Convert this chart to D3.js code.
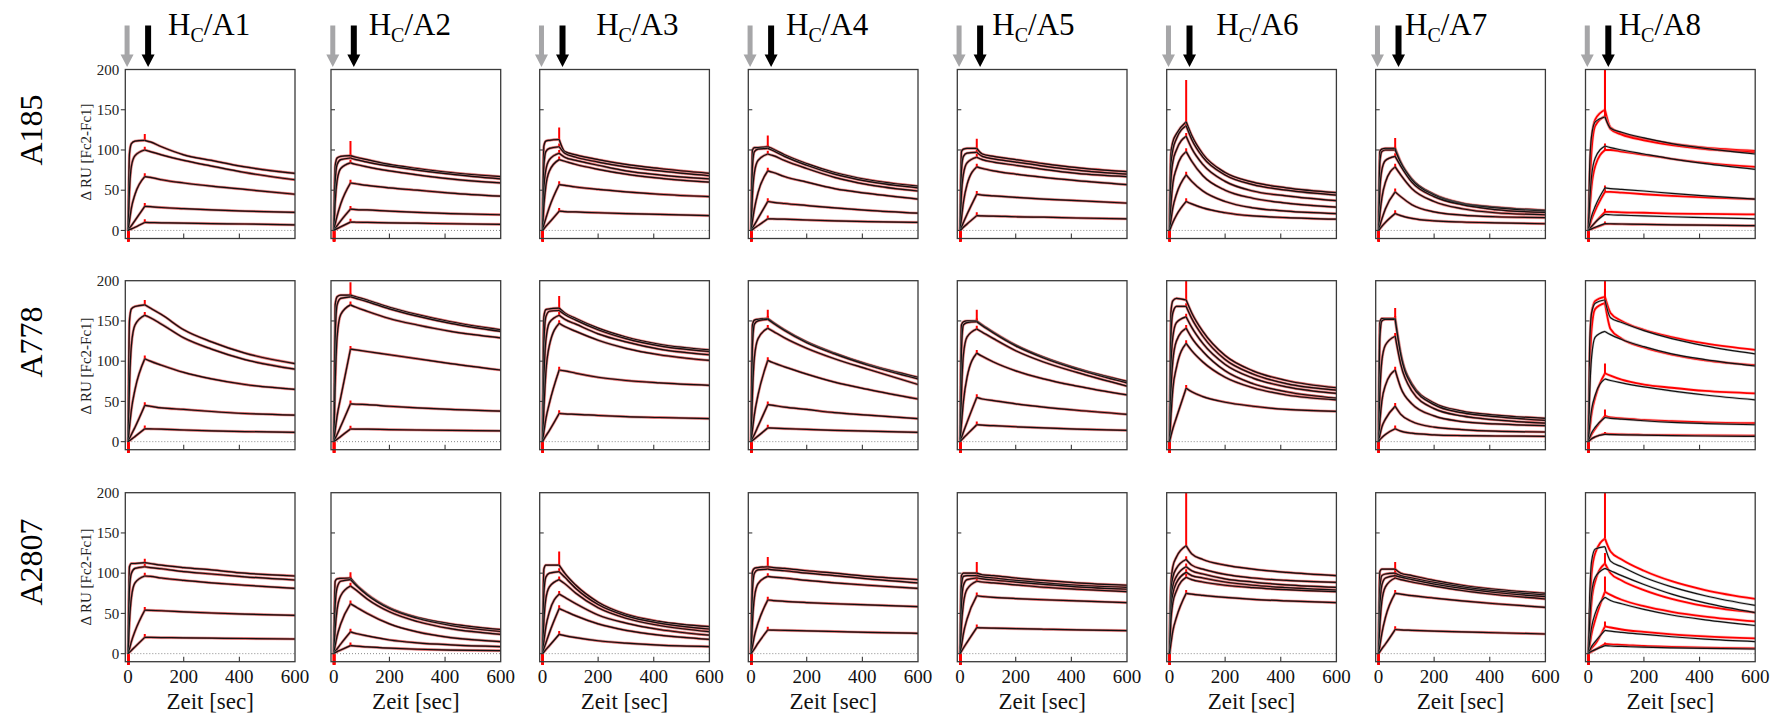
<!DOCTYPE html>
<html>
<head>
<meta charset="utf-8">
<script src="https://cdn.jsdelivr.net/npm/d3@7"></script>
<style>
  body { margin: 0; background: #fff; }
  svg { display: block; }
  svg text { font-family: "Liberation Serif", "DejaVu Serif", "Times New Roman", serif; }
</style>
</head>
<body>
<svg id="chart" width="1775" height="717" font-family="Liberation Serif, DejaVu Serif, serif"></svg>
<script>
// Sensorgrams: rows = antibody, columns = H_C / A-variant
const rowNames = ["A185", "A778", "A2807"];
const colNames = ["A1", "A2", "A3", "A4", "A5", "A6", "A7", "A8"];
const timePoints = [0, 5, 12, 25, 60, 80, 120, 200, 300, 420, 600];
const injectionEnd = 60;
const xTickValues = [0, 200, 400, 600];
const yTickValues = [0, 50, 100, 150, 200];

// black fit curves, one list per column
const fitA185 = [
  [[0,95,108,111,112,110,104,94,87,79,71],[0,50,80,93,100,98,94,87,80,72,63],[0,12,28,45,67,66,63,59,55,51,45],[0,3,6,12.5,30,29.5,28.5,27,25.5,24,22.4],[0,1,2,4,10,9.8,9.5,9,8.5,8,7]],
  [[0,80,90,92,93,91,88,82,77,72,67],[0,60,82,88,90,88,85,80,75,70,64],[0,35,62,77,84,82,79,74,69,64,59],[0,8,18,33,59,58,56,53,50,46.5,42.6],[0,2.5,6,12,26.5,26,25.5,24,22.5,21,19.5],[0,1,2.3,4.5,10.4,10.2,10,9.5,9,8.3,7.5]],
  [[0,105,111,112,113,98,94,88,82,77,71],[0,80,98,102,104,96,91,85,79,74,68],[0,50,75,88,96,91,87,81,74,69,64],[0,30,55,74,88,86,82,76,70,65,60],[0,7,15,29,57,56,54,51,48,45,42],[0,2,5,10,24,23.5,23,22,21,20,18.5]],
  [[0,100,103,103,104,101,94,83,72,63,55],[0,80,98,101,102,99,92,81,70,61,53],[0,45,72,87,95,93,87,77,66,57,49],[0,12,27,47,74,72,67,60,52,46,39],[0,3,7,15,36,35,33.5,31,28,25,21.5],[0,1,3,6,14.5,14.3,14,13,12,11,10]],
  [[0,98,101,102,102,95,92,88,83,78,73],[0,75,92,96,97,92,89,85,80,75,70],[0,45,70,84,91,88,85,81,76,71,67],[0,15,35,57,79,77,74,70,66,62,57],[0,4,10,20,45,44,43,41,39,37,34],[0,1.5,4,8,18.5,18,17.8,17,16.5,15.5,14.5]],
  [[0,95,110,120,135,118,95,72,60,53,47],[0,80,100,114,130,113,91,69,57,50,44],[0,60,85,100,117,102,82,61,49,43,37],[0,30,58,77,98,86,68,50,40,34,29],[0,12,28,45,69,61,49,36,28,24,21],[0,4,10,19,36,33,28,22,18,16,14]],
  [[0,98,101,102,102,85,64,45,34,29,25],[0,85,98,100,100,84,63,44,33,28,24],[0,50,75,87,92,80,60,42,32,26,22.5],[0,20,40,60,79,69,52,36,27,22,19.5],[0,6,14,27,48,42,32,23,19,17,16],[0,2,5,10,21,18.5,15,12,10.5,9.5,8.3]],
  [[0,80,118,135,141,127,122,115,108,102,95],[0,35,68,90,105,103,100,95,89,83,76],[0,8,18,30,53,52,51,49,46,43,39],[0,2,5,10,20,19.5,19,18,17,16,14.5],[0,1,2,4,8.5,8.3,8,7.5,7,6.5,6]]
];
const fitA778 = [
  [[0,150,165,168,170,166,158,139,124,110,97],[0,70,120,145,157,154,146,129,115,102,90],[0,18,40,65,103,100,95,86,78,71,65],[0,4,9,18,45,44,42,40,37.5,35,33],[0,1.3,3,6.5,16,15.8,15.5,14.5,13.5,12.5,11.6]],
  [[0,170,180,182,182,180,176,167,158,149,139],[0,130,170,178,180,178,174,165,156,147,137],[0,70,130,158,170,167,162,153,145,137,129],[0,14,32,55,115,114,112,108,103,97,89],[0,4,9,19,47,46.5,46,44,42,40,38],[0,1.3,3,6.5,15.7,15.6,15.5,15,14.5,14,13.5]],
  [[0,155,164,165,166,160,153,141,130,121,114],[0,120,155,162,163,158,151,139,128,119,112],[0,75,125,148,157,152,146,134,124,115,108],[0,40,85,120,147,143,137,126,116,108,101],[0,12,28,48,89,88,85,80,76,73,70],[0,3,7,14,35,34.5,34,32.5,31,30,28.5]],
  [[0,145,151,152,153,148,139,124,110,96,80],[0,120,146,150,152,147,138,123,109,95,78],[0,60,105,128,141,137,129,116,103,90,71],[0,15,34,58,101,98,93,84,74,65,53],[0,4,9,19,46,45,43,40,36,33,28.5],[0,1.4,3.4,7,17,16.8,16.3,15.2,14,13,11.6]],
  [[0,145,149,150,150,145,136,120,105,91,75],[0,115,145,148,149,144,135,119,104,90,73],[0,60,108,130,140,136,128,113,99,86,69],[0,22,50,80,110,106,99,88,78,69,58],[0,5,12,24,55,53,51,47,43,39,34],[0,2,4.5,9,21,20.5,19.8,18.5,17,15.5,14]],
  [[0,160,175,178,176,160,137,107,88,76,67],[0,130,160,168,168,153,131,102,84,72,64],[0,90,130,148,155,142,122,96,79,68,60],[0,60,100,125,141,129,112,88,72,62,54],[0,30,65,92,122,113,99,80,67,58,52],[0,7,16,30,66.5,62,56,49,44,40,37.6]],
  [[0,148,153,153,153,110,72,48,38,33,29],[0,130,150,152,152,108,70,46,36,31,26.5],[0,60,100,120,131,96,63,41,32,27,23],[0,25,50,70,89,67,47,32,25,22,20],[0,8,18,28,44,34,25,18,15,13,12],[0,2.5,5,9,16,13,10.5,8.5,7.5,7,6.6]],
  [[0,120,160,172,176,154,148,138,128,119,109],[0,60,105,130,137,133,127,118,109,102,94],[0,20,40,58,78,76,73,68,63,58,52],[0,5,11,18,30,29,28,26,24,22.5,21],[0,1.5,3.5,6,9,8.8,8.5,8,7.5,7,6.6]]
];
const fitA2807 = [
  [[0,108,112,112,113,112,110,107,104,100,96.5],[0,80,100,106,108,107,105.5,102,99,95.5,91.5],[0,40,70,88,96.5,96,94,91,88,85,81],[0,6,15,28,54,53.8,53.3,52,50.5,49,47.6],[0,1.7,4,8.5,20.3,20.2,20,19.7,19.3,18.8,18.2]],
  [[0,90,93,93.5,94,86,74,57,45,37,30],[0,60,82,90,92,85,73,56,44,35,27.5],[0,30,55,72,84,79,68,52,40,31,24],[0,10,22,37,62,58,50,37,27,20,15],[0,3,6,12,27,25,22,17,13.5,11,8.7],[0,1,2.5,4.5,10,9.3,8.3,6.8,5.5,4.5,3.7]],
  [[0,105,110,110,110,100,85,64,49,40,33.5],[0,75,95,100,102,95,81,61,47,38,30.6],[0,40,68,83,92,87,75,57,44,35,27.3],[0,15,33,52,74,70,62,48,38,30,23],[0,6,13,26,56,53,47,37,29,23,17.8],[0,2,5,10,24,22.5,20,16,13,10.5,8.7]],
  [[0,102,106,107,108,107,106,103,100,96,92],[0,80,100,104,105,104,103,100,97,93,88],[0,40,70,87,96,95,94,91,88,85,81],[0,9,22,38,66.7,66,65,63.5,62,60.5,58.4],[0,2.5,6,13,29.4,29.2,29,28.3,27.5,26.5,25.3]],
  [[0,97,100,100,100,98,97,94,91,88,85],[0,85,96,97,97,95.5,94,91,88,85,82.4],[0,60,85,92,94,93,91.5,89,86,83,80],[0,35,62,80,90,89,88,85.5,82.5,80,77],[0,10,25,43,72,71,70,68.5,67,65.5,63.4],[0,3,7,14,32.3,32,31.6,31,30.3,29.5,28.6]],
  [[0,85,108,120,134,124,117,110,105,101,97],[0,75,95,106,117,110,105,98.5,94,91,88.6],[0,62,84,96,108,103,99,93,89,85.5,82.4],[0,50,74,88,101,97,94,89,85,82,79],[0,40,63,78,95,92,89,85,82,79.5,77],[0,12,28,45,75,74,72.5,70,67.5,65.5,63.4]],
  [[0,102,105,105,105,100,97,91,85,80,75],[0,80,97,99,100,97,94,88.5,83,78,72.9],[0,55,85,94,97,95,92,86.5,81,76,70.8],[0,35,65,83,94,92,89,84,78.5,73.5,67.9],[0,10,25,45,75,74,72,69,65.5,62,57.6],[0,2.5,6,12,30,29.5,29,28,27,26,24.4]],
  [[0,70,115,130,133,115,108,95,83,72,60],[0,40,75,95,106,103,97,86,74,63,51],[0,15,33,50,70,66,62,55,48,42,35],[0,4,9,15,29,28,26.5,24,21,18,15],[0,1.5,3,5,10,9.5,9,8,7.2,6.5,5.8]]
];

// red measured curves: equal to the fit except for the A8 column
const measuredA8 = [
  [[0,70,115,138,150,128,121,114,108,103,99],[0,50,100,130,142,126,119,112,106,101,97],[0,25,55,80,100,100,98,94,89,84,79],[0,6,14,25,48,48,47,45,43,41,39],[0,2,5,10,23,23,22.5,22,21,20.5,20],[0,1,2,3.5,8,8,7.8,7.5,7,6.5,6]],
  [[0,110,160,175,180,160,150,139,130,122,114],[0,80,140,165,172,140,128,117,108,101,95],[0,15,35,55,85,82,77,71,67,63,60],[0,4,9,16,32,30,29,27,25.5,24,23],[0,1.5,3.5,6,10,9.5,9,8.5,8,7.7,7.4]],
  [[0,50,100,125,143,127,117,103,90,79,68],[0,30,65,90,112,100,91,79,68,59,51],[0,10,25,42,77,73,67,59,52,46,40],[0,3,7,12,34,32.5,30,27,24,21.5,19],[0,1,2.5,5,12,11.5,11,9.5,8.5,7.5,6.6]]
];
// injection-end spikes of the measured curves (RU)
const topSpikeA185 = [120, 111, 128, 118, 114, 187, 115];
const topSpikeA778 = [176, 198, 181, 164, 164, 200, 166];
const topSpikeA2807 = [118, 101, 127, 120, 114, 200, 114];
const spikesA8 = [[210, 205, 108, 56, 27, 11], [210, 190, 97, 40, 12], [210, 125, 96, 40, 14]];
const minorSpike = 4;
const injectionDip = -16;

// layout
const panelLefts = [125.3, 331, 539.7, 748.3, 957.3, 1166.7, 1375.7, 1585.5];
const panelTops = [69.5, 280.7, 492.7];
const panelW = 169.7, panelH = 169;
const titleLefts = [168, 368.7, 596.2, 786, 992.3, 1216.3, 1405, 1618.7];
const rowLabelY = [130, 342, 562];
const axisLabelY = [152, 366, 577];
const serif = "Liberation Serif, DejaVu Serif, serif";

const fits = [fitA185, fitA778, fitA2807];
const topSpikes = [topSpikeA185, topSpikeA778, topSpikeA2807];

const svg = d3.select("#chart");
const defs = svg.append("defs");

function drawPanel(r, c) {
  const left = panelLefts[c], top = panelTops[r];
  const x = d3.scaleLinear().domain([-10, 600]).range([left, left + panelW]);
  const y = d3.scaleLinear().domain([-10, 200]).range([top + panelH, top]);
  const g = svg.append("g");

  const clipId = `clip-${r}-${c}`;
  defs.append("clipPath").attr("id", clipId)
    .append("rect").attr("x", left).attr("y", top).attr("width", panelW).attr("height", panelH + 3);

  // zero reference
  g.append("line")
    .attr("x1", left).attr("x2", left + panelW)
    .attr("y1", y(0)).attr("y2", y(0))
    .attr("stroke", "#8a8a8a").attr("stroke-width", 1).attr("stroke-dasharray", "1,2");

  const plot = g.append("g").attr("clip-path", `url(#${clipId})`);
  const line = d3.line().x(d => x(d[0])).y(d => y(d[1])).curve(d3.curveMonotoneX);
  const phases = vals => {
    const pts = timePoints.map((t, i) => [t, vals[i]]);
    const k = timePoints.indexOf(injectionEnd);
    return [pts.slice(0, k + 1), pts.slice(k)];
  };

  const isA8 = c === 7;
  const measured = isA8 ? measuredA8[r] : fits[r][c];
  const spikes = isA8 ? spikesA8[r]
    : measured.map((v, i) => i === 0 ? topSpikes[r][c] : v[timePoints.indexOf(injectionEnd)] + minorSpike);

  // measured data (red)
  measured.forEach((vals, i) => {
    const v60 = vals[timePoints.indexOf(injectionEnd)];
    phases(vals).forEach(seg => {
      plot.append("path").attr("d", line(seg)).attr("fill", "none")
        .attr("stroke", "#ff8a8a").attr("stroke-width", 3.2).attr("stroke-opacity", 0.45);
      plot.append("path").attr("d", line(seg)).attr("fill", "none")
        .attr("stroke", "#ff0000").attr("stroke-width", 1.8);
    });
    plot.append("line")
      .attr("x1", x(injectionEnd)).attr("x2", x(injectionEnd))
      .attr("y1", y(v60)).attr("y2", y(spikes[i]))
      .attr("stroke", "#ff0000").attr("stroke-width", 2);
    plot.append("line")
      .attr("x1", x(1)).attr("x2", x(1))
      .attr("y1", y(0)).attr("y2", y(injectionDip))
      .attr("stroke", "#ff0000").attr("stroke-width", 2.4);
  });

  // fitted model (black)
  fits[r][c].forEach(vals => {
    phases(vals).forEach(seg => {
      plot.append("path").attr("d", line(seg)).attr("fill", "none")
        .attr("stroke", "#9a9a9a").attr("stroke-width", 2.4).attr("stroke-opacity", 0.5);
      plot.append("path").attr("d", line(seg)).attr("fill", "none")
        .attr("stroke", "#111").attr("stroke-width", 1.2);
    });
  });

  // frame
  g.append("rect")
    .attr("x", left).attr("y", top).attr("width", panelW).attr("height", panelH)
    .attr("fill", "none").attr("stroke", "#3a3a3a").attr("stroke-width", 1.3);

  // y ticks
  yTickValues.slice(0, -1).forEach(v => {
    g.append("line")
      .attr("x1", c === 0 ? left - 4.5 : left).attr("x2", c === 0 ? left : left + 4)
      .attr("y1", y(v)).attr("y2", y(v))
      .attr("stroke", "#3a3a3a").attr("stroke-width", 1.1);
  });
  if (c === 0) {
    yTickValues.forEach(v => {
      g.append("text")
        .attr("x", left - 6).attr("y", y(v)).attr("dy", "0.35em")
        .attr("text-anchor", "end").attr("font-family", serif).attr("font-size", 15).attr("fill", "#222")
        .text(v);
    });
  }

  // x ticks
  xTickValues.slice(1, -1).forEach(v => {
    g.append("line")
      .attr("x1", x(v)).attr("x2", x(v))
      .attr("y1", top + panelH).attr("y2", top + panelH - 5)
      .attr("stroke", "#3a3a3a").attr("stroke-width", 1.1);
  });
  if (r === rowNames.length - 1) {
    xTickValues.forEach(v => {
      g.append("text")
        .attr("x", x(v)).attr("y", top + panelH + 21.5)
        .attr("text-anchor", "middle").attr("font-family", serif).attr("font-size", 19).attr("fill", "#111")
        .text(v);
    });
    g.append("text")
      .attr("x", left + panelW / 2).attr("y", 709)
      .attr("text-anchor", "middle").attr("font-family", serif).attr("font-size", 23).attr("fill", "#111")
      .text("Zeit [sec]");
  }

  // injection arrows and title on the first row
  if (r === 0) {
    const arrow = (cx, half, color) => {
      const p = d3.path();
      p.moveTo(cx - half, 25.5); p.lineTo(cx + half, 25.5); p.lineTo(cx + half, 54.5);
      p.lineTo(cx + 6.5, 54.5); p.lineTo(cx, 67); p.lineTo(cx - 6.5, 54.5);
      p.lineTo(cx - half, 54.5); p.closePath();
      svg.append("path").attr("d", p.toString()).attr("fill", color);
    };
    arrow(x(0) - 1, 2.5, "#a6a6a8");
    arrow(x(72), 3, "#000");

    const t = svg.append("text").attr("x", titleLefts[c]).attr("y", 34.5)
      .attr("font-family", serif).attr("font-size", 31).attr("fill", "#000");
    t.append("tspan").text("H");
    t.append("tspan").attr("font-size", 20).attr("dy", 7).text("C");
    t.append("tspan").attr("dy", -7).text("/" + colNames[c]);
  }
}

rowNames.forEach((name, r) => {
  svg.append("text")
    .attr("transform", `translate(42,${rowLabelY[r]}) rotate(-90)`)
    .attr("text-anchor", "middle").attr("font-family", serif).attr("font-size", 32).attr("fill", "#000")
    .text(name);
  svg.append("text")
    .attr("transform", `translate(91,${axisLabelY[r]}) rotate(-90)`)
    .attr("text-anchor", "middle").attr("font-family", serif).attr("font-size", 15).attr("fill", "#222")
    .text("Δ RU [Fc2-Fc1]");
  colNames.forEach((col, c) => drawPanel(r, c));
});
</script>
</body>
</html>
